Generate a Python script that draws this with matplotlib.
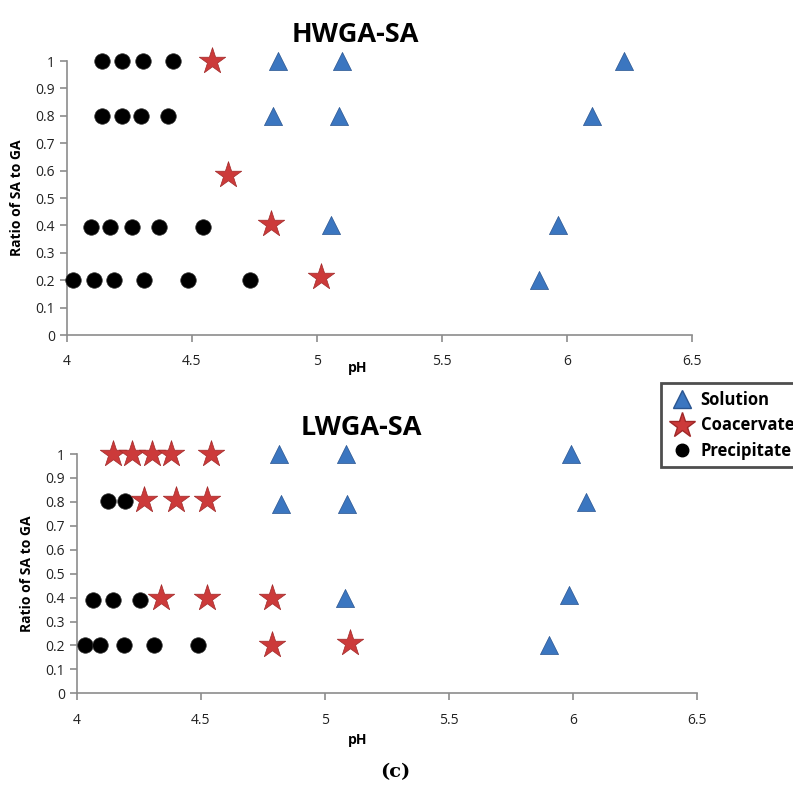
import matplotlib
matplotlib.use("Agg")
import matplotlib.pyplot as plt
from matplotlib.lines import Line2D

plt.rcParams['font.family'] = ['Open Sans', 'DejaVu Sans']

# HWGA-SA
hw_sol_ph = [4.845, 5.099, 6.228, 4.825, 5.089, 6.099, 5.056, 5.964, 5.887]
hw_sol_ratio = [1.0, 1.0, 1.0, 0.8, 0.8, 0.8, 0.4, 0.4, 0.2]
hw_coa_ph = [4.579, 4.645, 4.815, 5.015]
hw_coa_ratio = [1.0, 0.584, 0.405, 0.21]
hw_pre_ph = [4.139, 4.22, 4.303, 4.423,
             4.141, 4.219, 4.295, 4.405,
             4.096, 4.173, 4.261, 4.368, 4.545,
             4.025, 4.109, 4.187, 4.309, 4.485, 4.731]
hw_pre_ratio = [1.0] * 4 + [0.8] * 4 + [0.395] * 5 + [0.2] * 6

# LWGA-SA
lw_sol_ph = [4.816, 5.085, 5.99, 4.822, 5.088, 6.052, 5.082, 5.983, 5.904]
lw_sol_ratio = [1.0, 1.0, 1.0, 0.79, 0.79, 0.8, 0.4, 0.41, 0.2]
lw_coa_ph = [4.145, 4.223, 4.302, 4.381, 4.541,
             4.271, 4.399, 4.526,
             4.34, 4.526, 4.786,
             4.786, 5.101]
lw_coa_ratio = [1.0] * 5 + [0.81] * 3 + [0.4] * 3 + [0.2, 0.21]
lw_pre_ph = [4.125, 4.195,
             4.064, 4.146, 4.255,
             4.032, 4.094, 4.192, 4.313, 4.489]
lw_pre_ratio = [0.805] * 2 + [0.39] * 3 + [0.2] * 5

blue = "#3b76c0"
red = "#cc3a3a"
grey = "#8c8c8c"

fig = plt.figure(figsize=(7.93, 7.96), dpi=100)
ax1 = fig.add_axes([0.0845, 0.5791, 0.788, 0.3442])
ax2 = fig.add_axes([0.0967, 0.129, 0.7826, 0.3006])


def draw(ax, sol, coa, pre, title, tx):
    ax.scatter(pre[0], pre[1], s=125, marker="o", color="black",
               edgecolors="#333333", linewidths=0.5, clip_on=False, zorder=3)
    ax.scatter(coa[0], coa[1], s=400, marker="*", color=red,
               edgecolors="#a02828", linewidths=0.5, clip_on=False, zorder=4)
    ax.scatter(sol[0], sol[1], s=170, marker="^", color=blue,
               edgecolors="#2a5590", linewidths=0.5, clip_on=False, zorder=4)
    ax.set_xlim(4, 6.5)
    ax.set_ylim(0, 1)
    ax.set_xticks([4, 4.5, 5, 5.5, 6, 6.5])
    ax.set_xticklabels(["4", "4.5", "5", "5.5", "6", "6.5"])
    ax.set_yticks([i / 10 for i in range(11)])
    ax.set_yticklabels(["0", "0.1", "0.2", "0.3", "0.4", "0.5", "0.6",
                        "0.7", "0.8", "0.9", "1"])
    for s in ["top", "right"]:
        ax.spines[s].set_visible(False)
    for s in ["left", "bottom"]:
        ax.spines[s].set_color(grey)
        ax.spines[s].set_linewidth(1.2)
    ax.tick_params(axis="both", colors=grey, labelcolor="#222222",
                   labelsize=10, length=5, width=1.2)
    ax.tick_params(axis="x", pad=9)
    ax.set_ylabel("Ratio of SA to GA", fontsize=10, fontweight="bold", labelpad=8)
    ax.set_title(title, fontsize=19.5, fontweight="bold", pad=14, x=tx)


draw(ax1, (hw_sol_ph, hw_sol_ratio), (hw_coa_ph, hw_coa_ratio),
     (hw_pre_ph, hw_pre_ratio), "HWGA-SA", 0.461)
draw(ax2, (lw_sol_ph, lw_sol_ratio), (lw_coa_ph, lw_coa_ratio),
     (lw_pre_ph, lw_pre_ratio), "LWGA-SA", 0.458)

ax1.set_xlabel("pH", fontsize=10, fontweight="bold")
ax1.xaxis.set_label_coords(0.465, -0.095)
ax2.set_xlabel("pH", fontsize=10, fontweight="bold")
ax2.xaxis.set_label_coords(0.452, -0.165)

handles = [
    Line2D([], [], linestyle="", marker="^", markersize=13, color=blue,
           markeredgecolor="#2a5590", label="Solution"),
    Line2D([], [], linestyle="", marker="*", markersize=19, color=red,
           markeredgecolor="#a02828", label="Coacervate"),
    Line2D([], [], linestyle="", marker="o", markersize=9, color="black",
           label="Precipitate"),
]
leg = fig.legend(handles=handles, loc="upper left",
                 bbox_to_anchor=(653 / 793, 1 - 375 / 796),
                 frameon=True, fancybox=False, handletextpad=0.3,
                 handlelength=1.6, labelspacing=0.45, borderpad=0.45,
                 prop={"size": 12, "weight": "bold"})
leg.get_frame().set_edgecolor("#222222")
leg.get_frame().set_linewidth(2)

fig.text(395 / 793, 1 - 772 / 796, "(c)", ha="center", va="center",
         fontsize=14, fontweight="bold", family="DejaVu Serif")

fig.savefig("out.png", dpi=100)
